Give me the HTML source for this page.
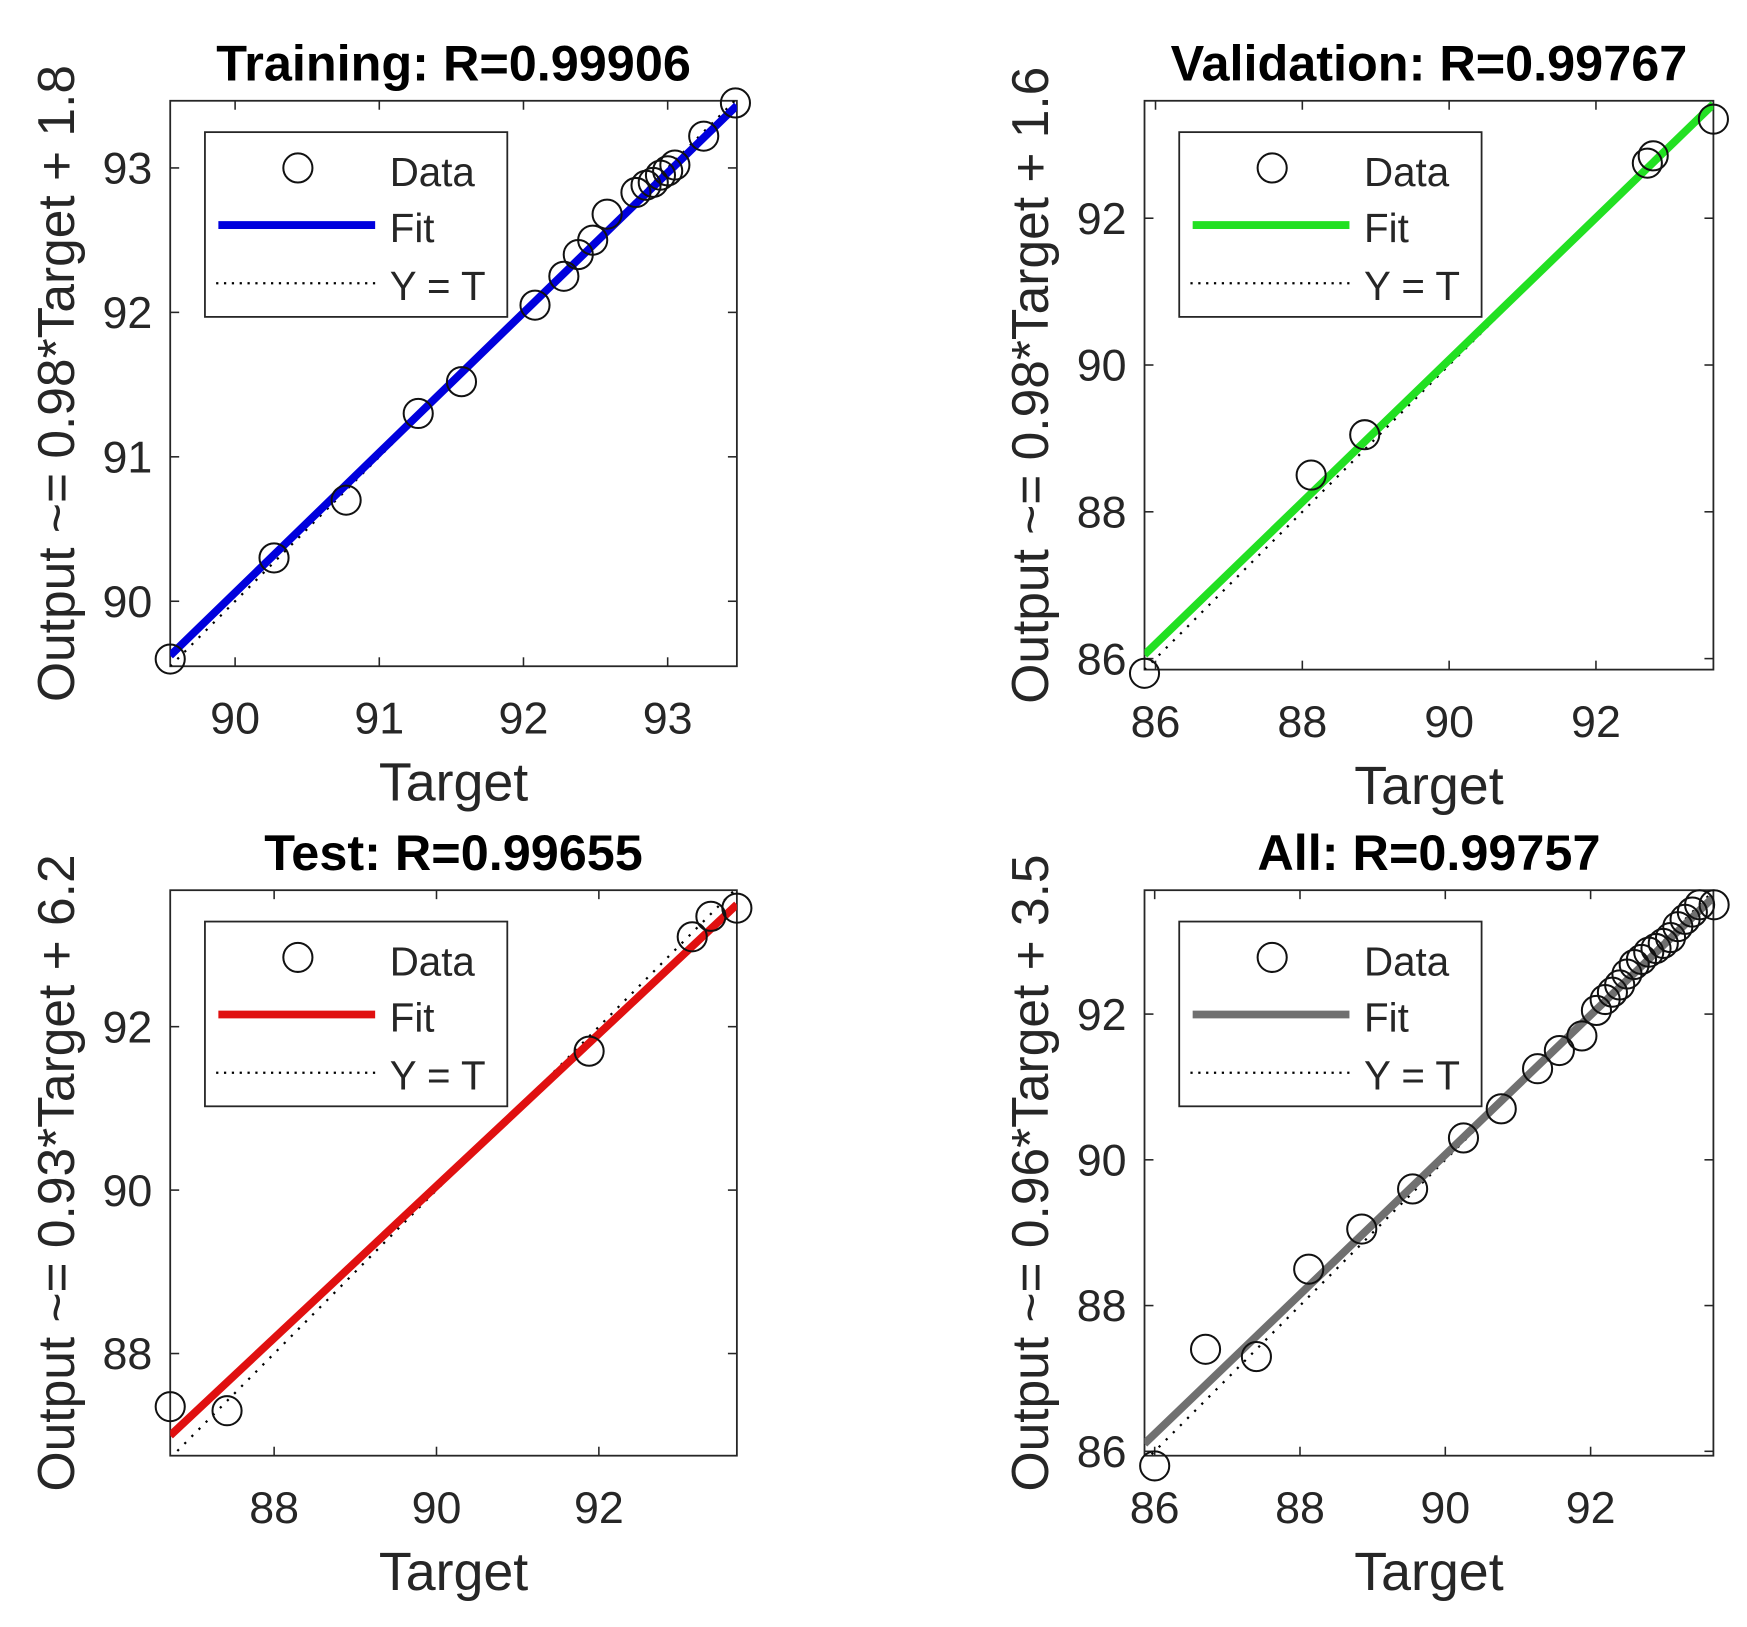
<!DOCTYPE html>
<html><head><meta charset="utf-8"><style>
html,body{margin:0;padding:0;background:#fff;}
svg{display:block;font-family:"Liberation Sans",Arial,sans-serif;}
</style></head><body>
<svg id="fig" width="1747" height="1627" viewBox="0 0 1560 1453" preserveAspectRatio="none" xmlns="http://www.w3.org/2000/svg"></svg>
<script>
// ---- data ----
const trainX = [89.55,90.27,90.77,91.27,91.57,92.08,92.28,92.38,92.48,92.58,92.78,92.85,92.9,92.95,93.0,93.05,93.25,93.47];
const trainY = [89.6,90.3,90.7,91.3,91.52,92.05,92.25,92.4,92.5,92.68,92.83,92.88,92.9,92.95,92.98,93.02,93.22,93.45];
const trainFit = [0.969,2.85];
const valX = [85.85,88.12,88.85,92.7,92.78,93.6];
const valY = [85.8,88.5,89.05,92.75,92.85,93.35];
const valFit = [0.968,2.95];
const testX = [86.72,87.42,91.88,93.15,93.38,93.7];
const testY = [87.35,87.3,91.7,93.1,93.35,93.45];
const testFit = [0.931,6.26];
const allX = [86.0,86.7,87.4,88.12,88.85,89.55,90.25,90.77,91.27,91.57,91.88,92.08,92.2,92.3,92.4,92.5,92.6,92.7,92.8,92.9,93.0,93.1,93.2,93.3,93.4,93.5,93.7];
const allY = [85.8,87.4,87.3,88.5,89.05,89.6,90.3,90.7,91.25,91.5,91.7,92.05,92.2,92.3,92.4,92.55,92.68,92.75,92.85,92.9,92.97,93.05,93.2,93.3,93.4,93.5,93.5];
const allFit = [0.958,3.85];
const trainTicks = [90,91,92,93];
const valTicks = [86,88,90,92];
const testTicks = [88,90,92];
const allTicks = [86,88,90,92];

const NS="http://www.w3.org/2000/svg";
const svg=document.getElementById('fig');
function mk(tag,attrs,parent,text){const e=document.createElementNS(NS,tag);for(const k in attrs)e.setAttribute(k,attrs[k]);if(text!==undefined)e.textContent=text;(parent||svg).appendChild(e);return e;}

let clipN=0;
function panel(key,title,ylabel,box,xd,yd,xs,ys,fit,ticks,color){
  const [L,T,R,B]=box;
  const g=mk('g',{});
  
  
  const sx=v=>L+(v-xd[0])/(xd[1]-xd[0])*(R-L);
  const sy=v=>B-(v-yd[0])/(yd[1]-yd[0])*(B-T);
  const cid='clip'+(clipN++);
  const cp=mk('clipPath',{id:cid},g);mk('rect',{x:L,y:T,width:R-L,height:B-T},cp);
  const frame=mk('rect',{x:L,y:T,width:R-L,height:B-T,fill:'#fff',stroke:'#262626','stroke-width':1.6},g);
  
  
  ticks.forEach(t=>{
    const x=sx(t),y=sy(t);
    mk('line',{x1:x,y1:B,x2:x,y2:B-8,stroke:'#262626','stroke-width':1.4},g);
    mk('line',{x1:x,y1:T,x2:x,y2:T+8,stroke:'#262626','stroke-width':1.4},g);
    mk('line',{x1:L,y1:y,x2:L+8,y2:y,stroke:'#262626','stroke-width':1.4},g);
    mk('line',{x1:R,y1:y,x2:R-8,y2:y,stroke:'#262626','stroke-width':1.4},g);
    const xt=mk('text',{x:x,y:B+60,'font-size':40,fill:'#262626','text-anchor':'middle'},g,String(t));
    
    
    const yt=mk('text',{x:L-16,y:y+14,'font-size':40,fill:'#262626','text-anchor':'end'},g,String(t));
    
    
  });
  const cg=mk('g',{'clip-path':'url(#'+cid+')'},g);
  const idl=mk('line',{x1:sx(xd[0]),y1:sy(xd[0]),x2:sx(xd[1]),y2:sy(xd[1]),stroke:'#000','stroke-width':2,'stroke-dasharray':'2 7'},cg);
  
  
  const fl=mk('line',{x1:sx(xd[0]),y1:sy(fit[0]*xd[0]+fit[1]),x2:sx(xd[1]),y2:sy(fit[0]*xd[1]+fit[1]),stroke:color,'stroke-width':7},cg);
  
  
  xs.forEach((v,i)=>{
    const c=mk('circle',{cx:sx(v),cy:sy(ys[i]),r:13,fill:'none',stroke:'#111','stroke-width':1.8},g);
    
    
  });
  const lg=mk('g',{},g);
  
  
  const lx=L+31,ly=T+28;
  mk('rect',{x:lx,y:ly,width:270,height:165,fill:'#fff',stroke:'#262626','stroke-width':1.6},lg);
  mk('circle',{cx:lx+83,cy:ly+32,r:13,fill:'none',stroke:'#111','stroke-width':1.8},lg);
  mk('text',{x:lx+165,y:ly+48,'font-size':36,fill:'#262626'},lg,'Data');
  mk('line',{x1:lx+12,y1:ly+83,x2:lx+152,y2:ly+83,stroke:color,'stroke-width':7},lg);
  mk('text',{x:lx+165,y:ly+98,'font-size':36,fill:'#262626'},lg,'Fit');
  mk('line',{x1:lx+10,y1:ly+135,x2:lx+155,y2:ly+135,stroke:'#000','stroke-width':2,'stroke-dasharray':'2 5'},lg);
  mk('text',{x:lx+165,y:ly+150,'font-size':36,fill:'#262626'},lg,'Y = T');
  const cx=(L+R)/2;
  const tt=mk('text',{x:cx,y:T-18,'font-size':45,'font-weight':'bold',fill:'#000','text-anchor':'middle'},g,title);
  
  
  const xl=mk('text',{x:cx,y:B+120,'font-size':48,fill:'#262626','text-anchor':'middle'},g,'Target');
  
  
  const cyy=(T+B)/2, yx=L-86;
  const yl=mk('text',{x:yx,y:cyy,'font-size':46,fill:'#262626','text-anchor':'middle',transform:'rotate(-90 '+yx+' '+cyy+')'},g,ylabel);
  
  
}
panel('training','Training: R=0.99906','Output ~= 0.98*Target + 1.8',[152,90,658,595],[89.55,93.48],[89.55,93.465],trainX,trainY,trainFit,trainTicks,'#0000dd');
panel('validation','Validation: R=0.99767','Output ~= 0.98*Target + 1.6',[1022,90,1530,598],[85.85,93.6],[85.85,93.6],valX,valY,valFit,valTicks,'#22e022');
panel('test','Test: R=0.99655','Output ~= 0.93*Target + 6.2',[152,795,658,1300],[86.72,93.70],[86.75,93.67],testX,testY,testFit,testTicks,'#e01010');
panel('all','All: R=0.99757','Output ~= 0.96*Target + 3.5',[1022,795,1530,1300],[85.86,93.69],[85.94,93.7],allX,allY,allFit,allTicks,'#707070');
</script>
</body></html>
